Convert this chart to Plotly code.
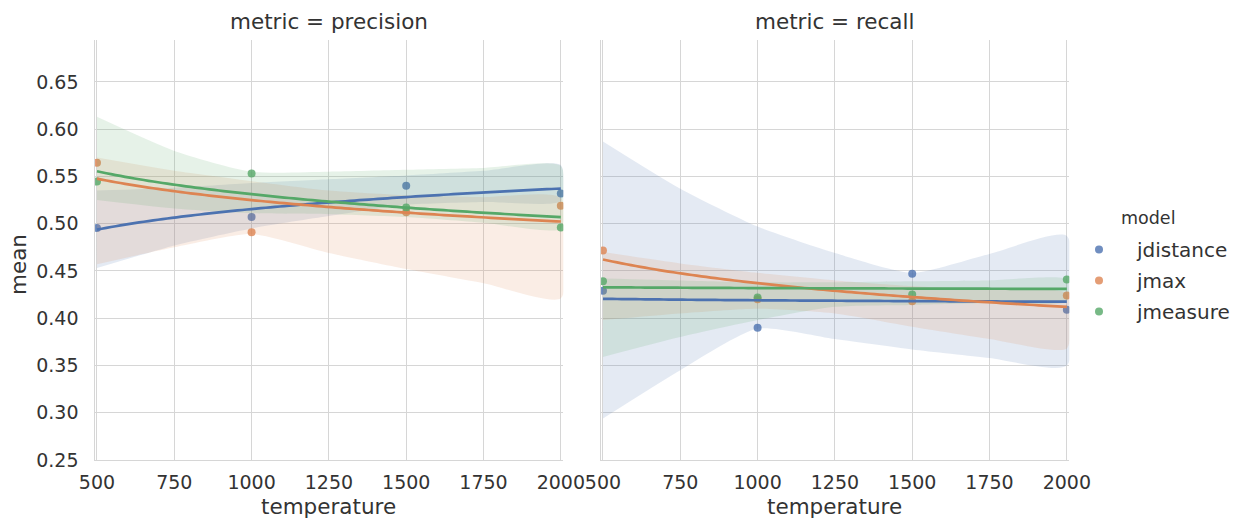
import numpy as np
import plotly.graph_objects as go

W, H = 1235, 520

# ---------------- data ----------------
temperature = [500, 1000, 1500, 2000]
models = ["jdistance", "jmax", "jmeasure"]
metrics = ["precision", "recall"]

precision_jdistance = [0.4955, 0.507, 0.540, 0.532]
precision_jmax = [0.5645, 0.491, 0.512, 0.519]
precision_jmeasure = [0.5445, 0.553, 0.517, 0.496]

recall_jdistance = [0.429, 0.390, 0.447, 0.409]
recall_jmax = [0.4716, 0.420, 0.418, 0.424]
recall_jmeasure = [0.439, 0.422, 0.425, 0.441]

# 95% confidence band edges
band_x = [500, 750, 1000, 1250, 1500, 1750, 2000]
precision_jdistance_upper = [0.535, 0.538, 0.543, 0.547, 0.551, 0.556, 0.562]
precision_jdistance_lower = [0.453, 0.477, 0.495, 0.508, 0.520, 0.523, 0.524]
precision_jmax_upper = [0.570, 0.556, 0.545, 0.535, 0.530, 0.528, 0.527]
precision_jmax_lower = [0.457, 0.475, 0.489, 0.469, 0.452, 0.437, 0.421]
precision_jmeasure_upper = [0.613, 0.577, 0.555, 0.555, 0.557, 0.559, 0.561]
precision_jmeasure_lower = [0.525, 0.516, 0.511, 0.510, 0.507, 0.501, 0.495]

recall_jdistance_upper = [0.587, 0.537, 0.497, 0.469, 0.448, 0.468, 0.487]
recall_jdistance_lower = [0.294, 0.345, 0.389, 0.378, 0.367, 0.358, 0.350]
recall_jmax_upper = [0.470, 0.458, 0.448, 0.440, 0.434, 0.430, 0.426]
recall_jmax_lower = [0.398, 0.405, 0.410, 0.405, 0.391, 0.378, 0.368]
recall_jmeasure_upper = [0.442, 0.440, 0.438, 0.438, 0.439, 0.440, 0.441]
recall_jmeasure_lower = [0.359, 0.380, 0.398, 0.412, 0.414, 0.416, 0.418]

x_ticks = [500, 750, 1000, 1250, 1500, 1750, 2000]
y_ticks = [0.25, 0.30, 0.35, 0.40, 0.45, 0.50, 0.55, 0.60, 0.65]

values = {
    ("precision", "jdistance"): (precision_jdistance, precision_jdistance_lower, precision_jdistance_upper),
    ("precision", "jmax"): (precision_jmax, precision_jmax_lower, precision_jmax_upper),
    ("precision", "jmeasure"): (precision_jmeasure, precision_jmeasure_lower, precision_jmeasure_upper),
    ("recall", "jdistance"): (recall_jdistance, recall_jdistance_lower, recall_jdistance_upper),
    ("recall", "jmax"): (recall_jmax, recall_jmax_lower, recall_jmax_upper),
    ("recall", "jmeasure"): (recall_jmeasure, recall_jmeasure_lower, recall_jmeasure_upper),
}

colors = {"jdistance": (76, 114, 176), "jmax": (221, 132, 82), "jmeasure": (85, 168, 104)}

def rgba(c, a):
    return "rgba(%d,%d,%d,%s)" % (c[0], c[1], c[2], a)

FONT = "DejaVu Sans"
TXT = "#333333"
GRID = "#d6d6d6"

fig = go.Figure()

xgrid = np.linspace(min(temperature), max(temperature), 100)

line_traces = []
for mi, metric in enumerate(metrics):
    xa = "x" if mi == 0 else "x2"
    ya = "y" if mi == 0 else "y2"
    for model in models:
        y, lo, up = values[(metric, model)]
        c = colors[model]
        # scatter points
        fig.add_trace(go.Scatter(
            x=temperature, y=y, mode="markers", xaxis=xa, yaxis=ya,
            marker=dict(size=8, color=rgba(c, 0.8), line=dict(width=0)),
            name=model, legendgroup=model, showlegend=(mi == 0),
        ))
        # confidence band
        fig.add_trace(go.Scatter(
            x=band_x + band_x[::-1], y=up + lo[::-1], xaxis=xa, yaxis=ya,
            mode="lines", fill="toself", fillcolor=rgba(c, 0.15),
            line=dict(width=0, shape="spline", smoothing=0.6),
            hoverinfo="skip", showlegend=False,
        ))
        # log-x regression line
        b, a = np.polyfit(np.log(temperature), y, 1)
        line_traces.append(go.Scatter(
            x=xgrid, y=a + b * np.log(xgrid), xaxis=xa, yaxis=ya, mode="lines",
            line=dict(color=rgba(c, 1), width=2.7, simplify=False),
            hoverinfo="skip", showlegend=False,
        ))
for t in line_traces:
    fig.add_trace(t)

dom_y = [1 - 460 / H, 1 - 40 / H]
xr = [492, 2008]
yr = [0.25, 0.6943]

axis_common = dict(
    showgrid=True, gridcolor=GRID, gridwidth=1.2, zeroline=False,
    showline=True, linecolor=GRID, linewidth=1.3, ticks="", automargin=False,
    tickfont=dict(family=FONT, size=19, color=TXT),
)

fig.update_layout(
    width=W, height=H,
    margin=dict(l=0, r=0, t=0, b=0, autoexpand=False),
    paper_bgcolor="white", plot_bgcolor="white",
    xaxis=dict(domain=[94.5 / W, 563.3 / W], range=xr, tickvals=x_ticks,
               ticklabelstandoff=5, anchor="y", **axis_common),
    xaxis2=dict(domain=[600.5 / W, 1069.3 / W], range=xr, tickvals=x_ticks,
                ticklabelstandoff=5, anchor="y2", **axis_common),
    yaxis=dict(domain=dom_y, range=yr, tickvals=y_ticks, tickformat=".2f",
               ticklabelstandoff=11, anchor="x", **axis_common),
    yaxis2=dict(domain=dom_y, range=yr, tickvals=y_ticks, showticklabels=False,
                matches="y", anchor="x2", **axis_common),
    showlegend=True,
    legend=dict(
        x=1061 / W, y=1 - 230 / H, xanchor="left", yanchor="top",
        font=dict(family=FONT, size=20, color=TXT),
        bgcolor="rgba(0,0,0,0)", itemwidth=66, tracegroupgap=2,
    ),
    font=dict(family=FONT, color=TXT),
)

def ann(text, xpx, ypx, size, angle=0):
    fig.add_annotation(
        text=text, x=xpx / W, y=1 - ypx / H, xref="paper", yref="paper",
        showarrow=False, xanchor="center", yanchor="middle", textangle=angle,
        font=dict(family=FONT, size=size, color=TXT),
    )

cx1 = (94.5 + 563.3) / 2
cx2 = (600.5 + 1069.3) / 2
ann("metric = precision", cx1, 22, 21.5)
ann("metric = recall", cx2, 22, 21.5)
ann("temperature", cx1, 506, 21.5)
ann("temperature", cx2, 506, 21.5)
ann("mean", 18, 265, 21.5, angle=-90)
ann("model", 1148, 218, 17.5)

fig.write_html(
    "out.html",
    config={"displayModeBar": False},
    post_script="document.body.style.margin='0px';document.body.style.overflow='hidden';",
)
